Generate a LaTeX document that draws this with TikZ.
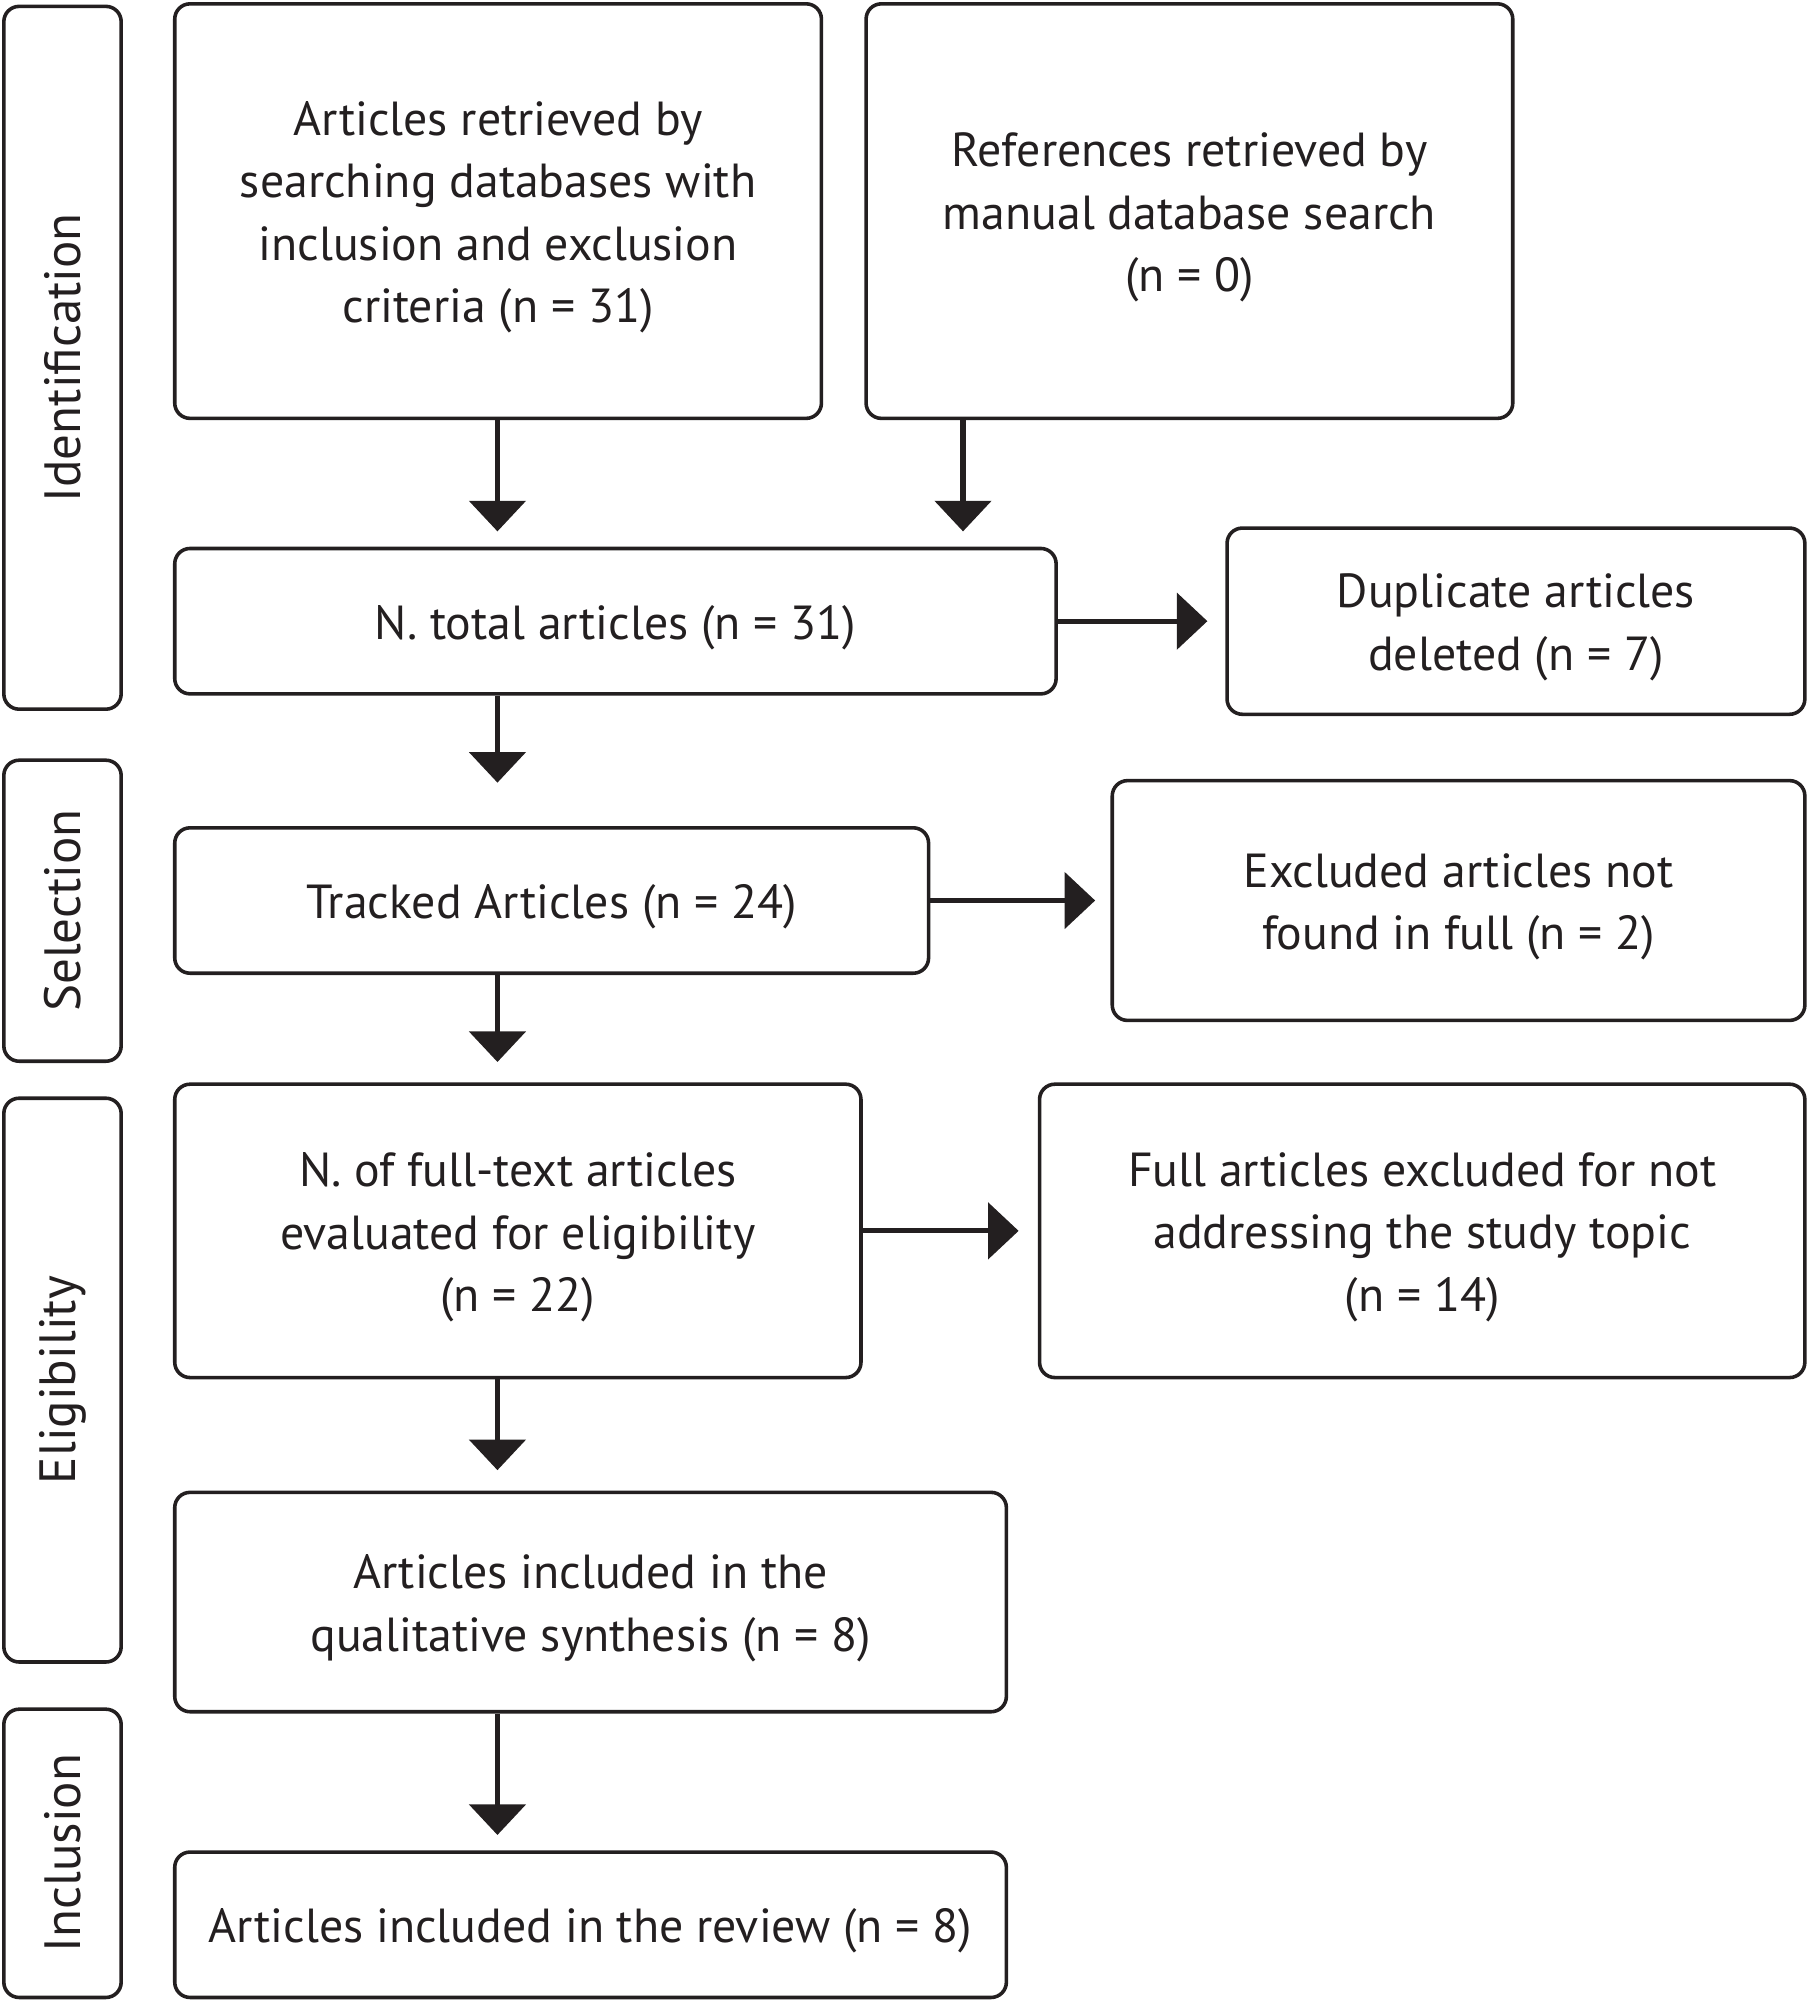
\documentclass[tikz,border=0pt]{standalone}
\usepackage{fontspec}
\setmainfont{PT Sans}
\usetikzlibrary{arrows.meta}
\definecolor{ink}{HTML}{231F20}
\begin{document}
\begin{tikzpicture}[x=1pt,y=-1pt,
 box/.style={draw=ink,line width=2.8pt,rounded corners=12pt,inner sep=0pt},
 txt/.style={align=center,text=ink,inner sep=0pt,font=\fontsize{37.5}{49}\selectfont},
 side/.style={draw=ink,line width=2.8pt,rounded corners=12pt,inner sep=0pt},
 sidelabel/.style={rotate=90,text=ink,font=\fontsize{40}{44}\selectfont,inner sep=0pt},
 arr/.style={draw=ink,line width=4pt,-{Triangle[width=44pt,length=24pt]}}]
\useasboundingbox (0,0) rectangle (1417,1568);
% side panels
\node[side,minimum width=92pt,minimum height=551pt] (s1) at (49,280.5) {};
\node[sidelabel] (l1) at (s1.center) {Identification};
\node[side,minimum width=92pt,minimum height=236pt] (s2) at (49,714) {};
\node[sidelabel] (l2) at (s2.center) {Selection};
\node[side,minimum width=92pt,minimum height=442pt] (s3) at (49,1082) {};
\node[sidelabel] (l3) at (s3.center) {Eligibility};
\node[side,minimum width=92pt,minimum height=226pt] (s4) at (49,1453) {};
\node[sidelabel] (l4) at (s4.center) {Inclusion};
% boxes
\node[box,minimum width=507pt,minimum height=325pt] (A) at (390.5,165.5) {};
\node[txt] (At) at ([yshift=-5pt]A.center) {Articles retrieved by\\searching databases with\\inclusion and exclusion\\criteria (n = 31)};
\node[box,minimum width=507pt,minimum height=325pt] (B) at (932.5,165.5) {};
\node[txt] (Bt) at ([yshift=-5pt]B.center) {References retrieved by\\manual database search\\(n = 0)};
\node[box,minimum width=691pt,minimum height=114pt] (C) at (482.5,487) {};
\node[txt] (Ct) at ([yshift=-5pt]C.center) {N. total articles (n = 31)};
\node[box,minimum width=453pt,minimum height=146pt] (D) at (1188.5,487) {};
\node[txt] (Dt) at ([yshift=-5pt]D.center) {Duplicate articles\\deleted (n = 7)};
\node[box,minimum width=591pt,minimum height=114pt] (E) at (432.5,706) {};
\node[txt] (Et) at ([yshift=-5pt]E.center) {Tracked Articles (n = 24)};
\node[box,minimum width=543pt,minimum height=188pt] (F) at (1143.5,706) {};
\node[txt] (Ft) at ([yshift=-5pt]F.center) {Excluded articles not\\found in full (n = 2)};
\node[box,minimum width=538pt,minimum height=230pt] (G) at (406,965) {};
\node[txt] (Gt) at ([yshift=-5pt]G.center) {N. of full-text articles\\evaluated for eligibility\\(n = 22)};
\node[box,minimum width=600pt,minimum height=230pt] (H) at (1115,965) {};
\node[txt] (Ht) at ([yshift=-5pt]H.center) {Full articles excluded for not\\addressing the study topic\\(n = 14)};
\node[box,minimum width=652pt,minimum height=172pt] (I) at (463,1256) {};
\node[txt] (It) at ([yshift=-5pt]I.center) {Articles included in the\\qualitative synthesis (n = 8)};
\node[box,minimum width=652pt,minimum height=114pt] (J) at (463,1509) {};
\node[txt] (Jt) at ([yshift=-5pt]J.center) {Articles included in the review (n = 8)};
% arrows
\coordinate (xa) at (390,0);
\coordinate (xb) at (755,0);
\draw[arr,shorten >=12pt] (A.south -| xa) -- (C.north -| xa);
\draw[arr,shorten >=12pt] (B.south -| xb) -- (C.north -| xb);
\draw[arr,shorten >=14pt] (C.east) -- (D.west |- C.east);
\draw[arr,shorten >=34pt] (C.south -| xa) -- (E.north -| xa);
\draw[arr,shorten >=12pt] (E.east) -- (F.west |- E.east);
\draw[arr,shorten >=16pt] (E.south -| xa) -- (G.north -| xa);
\draw[arr,shorten >=15pt] (G.east) -- (H.west |- G.east);
\draw[arr,shorten >=16pt] (G.south -| xa) -- (I.north -| xa);
\draw[arr,shorten >=12pt] (I.south -| xa) -- (J.north -| xa);
\end{tikzpicture}
\end{document}
